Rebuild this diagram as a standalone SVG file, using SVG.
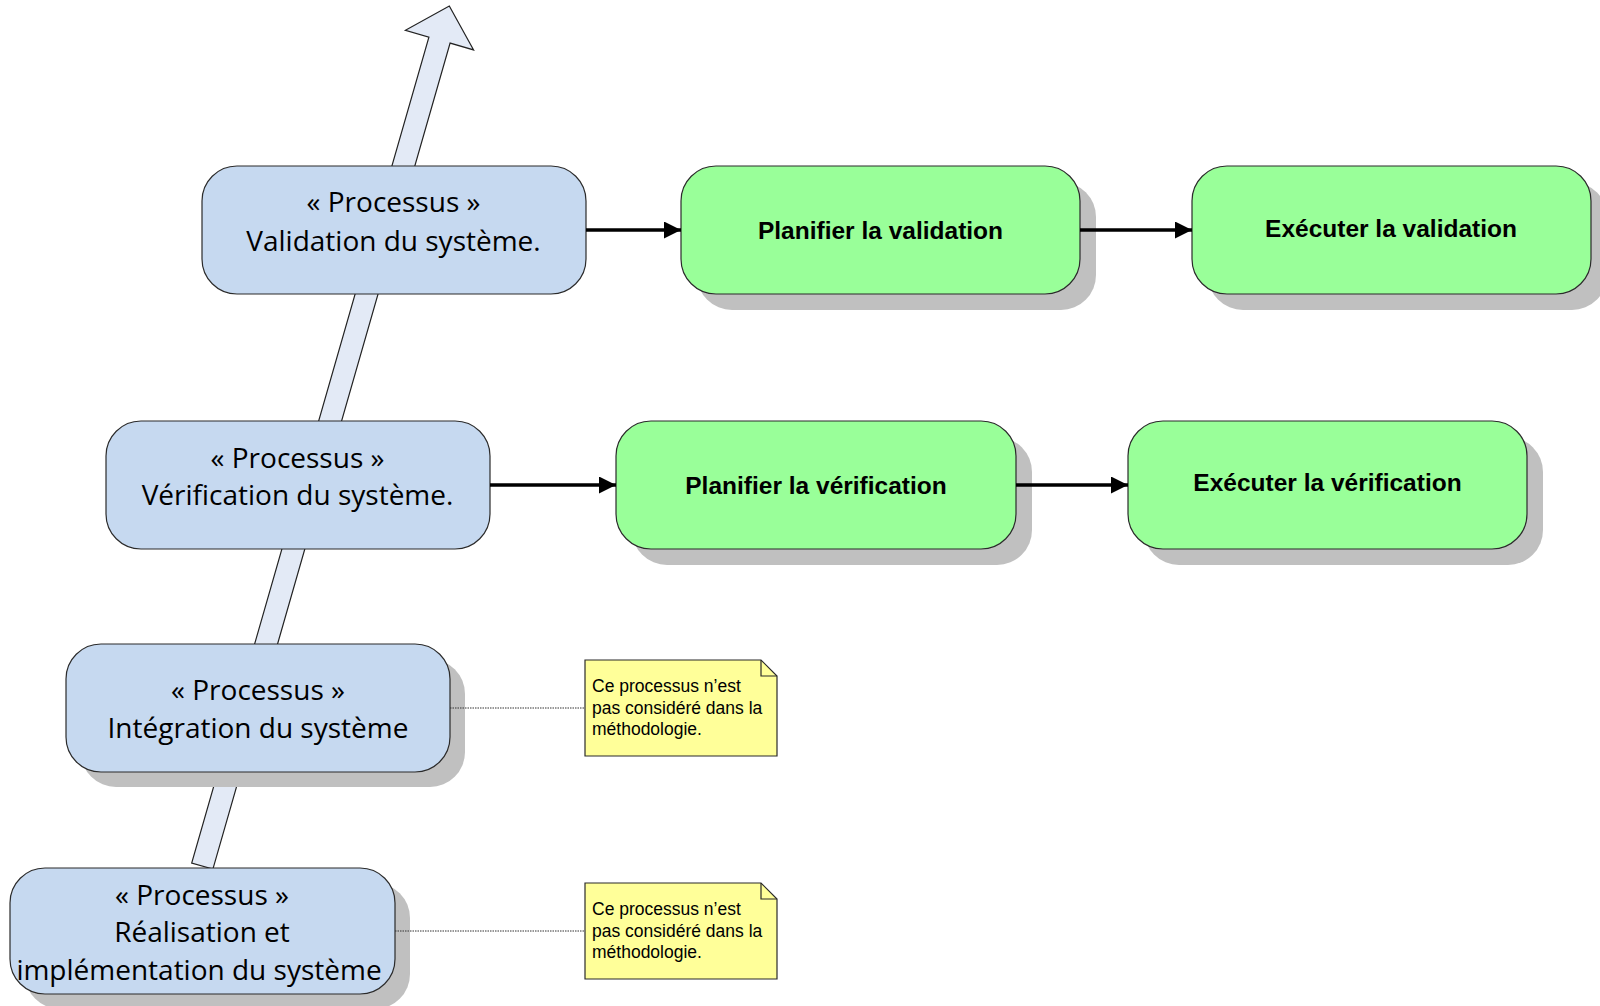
<svg xmlns="http://www.w3.org/2000/svg" width="1600" height="1006" viewBox="0 0 1600 1006">
  <style>
    .process { fill: #c6d9f0; stroke: #2b2b2b; stroke-width: 1.2; }
    .activity { fill: #99ff99; stroke: #2b2b2b; stroke-width: 1.2; }
    .shadow { fill: #c0c0c0; stroke: none; }
    .note { fill: #ffff99; stroke: #2b2b2b; stroke-width: 1.2; }
    .fold { fill: none; stroke: #2b2b2b; stroke-width: 1.2; }
    .ptext { font-family: "Open Sans", "Liberation Sans", sans-serif; font-size: 28px; fill: #000; text-anchor: middle; }
    .atext { font-family: "Liberation Sans", Arial, sans-serif; font-size: 24.5px; font-weight: bold; fill: #000; text-anchor: middle; }
    .ntext { font-family: "Liberation Sans", Arial, sans-serif; font-size: 17.5px; fill: #000; }
    .flow { fill: none; stroke: #000; stroke-width: 3.5; }
    .anchor { fill: none; stroke: #333; stroke-width: 1; stroke-dasharray: 1.5 1; }
    .lifecycle { fill: #e3eaf6; stroke: #222; stroke-width: 1.2; stroke-linejoin: miter; }
  </style>
  <defs>
    <marker id="head" viewBox="0 0 10 10" refX="10" refY="5" markerUnits="userSpaceOnUse" markerWidth="17" markerHeight="17" orient="auto">
      <path d="M0,0 L10,5 L0,10 Z" fill="#000"/>
    </marker>
  </defs>

  <rect width="1600" height="1006" fill="#ffffff"/>

  <!-- rising block arrow behind the process boxes -->
  <g id="lifecycle-arrow">
    <polygon class="lifecycle" points="449.3,6 473.6,49.9 450.1,43.1 212.9,869.1 191.7,863.1 428.9,37.1 405.4,30.3"/>
  </g>

  <!-- process nodes -->
  <g id="validation-systeme">
    <rect class="process" x="202" y="166" width="384" height="128" rx="35" ry="35"/>
    <text class="ptext" x="393.5" y="212">« Processus »</text>
    <text class="ptext" x="393.5" y="251">Validation du système.</text>
  </g>

  <g id="verification-systeme">
    <rect class="process" x="106" y="421" width="384" height="128" rx="35" ry="35"/>
    <text class="ptext" x="297.5" y="468">« Processus »</text>
    <text class="ptext" x="297.5" y="505">Vérification du système.</text>
  </g>

  <g id="integration-systeme">
    <rect class="shadow" x="81" y="659" width="384" height="128" rx="35" ry="35"/>
    <rect class="process" x="66" y="644" width="384" height="128" rx="35" ry="35"/>
    <text class="ptext" x="258" y="700">« Processus »</text>
    <text class="ptext" x="258" y="738">Intégration du système</text>
  </g>

  <g id="realisation-systeme">
    <rect class="shadow" x="25" y="883" width="385" height="126" rx="35" ry="35"/>
    <rect class="process" x="10" y="868" width="385" height="126" rx="35" ry="35"/>
    <text class="ptext" x="202" y="905">« Processus »</text>
    <text class="ptext" x="202" y="942">Réalisation et</text>
    <text class="ptext" x="199" y="980">implémentation du système</text>
  </g>

  <!-- activity nodes -->
  <g id="planifier-validation">
    <rect class="shadow" x="697" y="182" width="399" height="128" rx="35" ry="35"/>
    <rect class="activity" x="681" y="166" width="399" height="128" rx="35" ry="35"/>
    <text class="atext" x="880.5" y="239">Planifier la validation</text>
  </g>

  <g id="executer-validation">
    <rect class="shadow" x="1208" y="182" width="399" height="128" rx="35" ry="35"/>
    <rect class="activity" x="1192" y="166" width="399" height="128" rx="35" ry="35"/>
    <text class="atext" x="1391" y="237">Exécuter la validation</text>
  </g>

  <g id="planifier-verification">
    <rect class="shadow" x="632" y="437" width="400" height="128" rx="35" ry="35"/>
    <rect class="activity" x="616" y="421" width="400" height="128" rx="35" ry="35"/>
    <text class="atext" x="816" y="494">Planifier la vérification</text>
  </g>

  <g id="executer-verification">
    <rect class="shadow" x="1144" y="437" width="399" height="128" rx="35" ry="35"/>
    <rect class="activity" x="1128" y="421" width="399" height="128" rx="35" ry="35"/>
    <text class="atext" x="1327.5" y="491">Exécuter la vérification</text>
  </g>

  <!-- notes -->
  <g id="note-integration">
    <path class="note" d="M585,660 H761 L777,676 V756 H585 Z"/>
    <path class="fold" d="M761,660 V676 H777"/>
    <text class="ntext" x="592" y="692">Ce processus n’est</text>
    <text class="ntext" x="592" y="713.5">pas considéré dans la</text>
    <text class="ntext" x="592" y="735">méthodologie.</text>
  </g>

  <g id="note-realisation">
    <path class="note" d="M585,883 H761 L777,899 V979 H585 Z"/>
    <path class="fold" d="M761,883 V899 H777"/>
    <text class="ntext" x="592" y="915">Ce processus n’est</text>
    <text class="ntext" x="592" y="936.5">pas considéré dans la</text>
    <text class="ntext" x="592" y="958">méthodologie.</text>
  </g>

  <!-- connectors -->
  <g id="connectors">
    <line class="flow" x1="586" y1="230" x2="681" y2="230" marker-end="url(#head)"/>
    <line class="flow" x1="1080" y1="230" x2="1192" y2="230" marker-end="url(#head)"/>
    <line class="flow" x1="490" y1="485" x2="616" y2="485" marker-end="url(#head)"/>
    <line class="flow" x1="1016" y1="485" x2="1128" y2="485" marker-end="url(#head)"/>
    <line class="anchor" x1="450" y1="708" x2="585" y2="708"/>
    <line class="anchor" x1="395" y1="931" x2="585" y2="931"/>
  </g>
</svg>
